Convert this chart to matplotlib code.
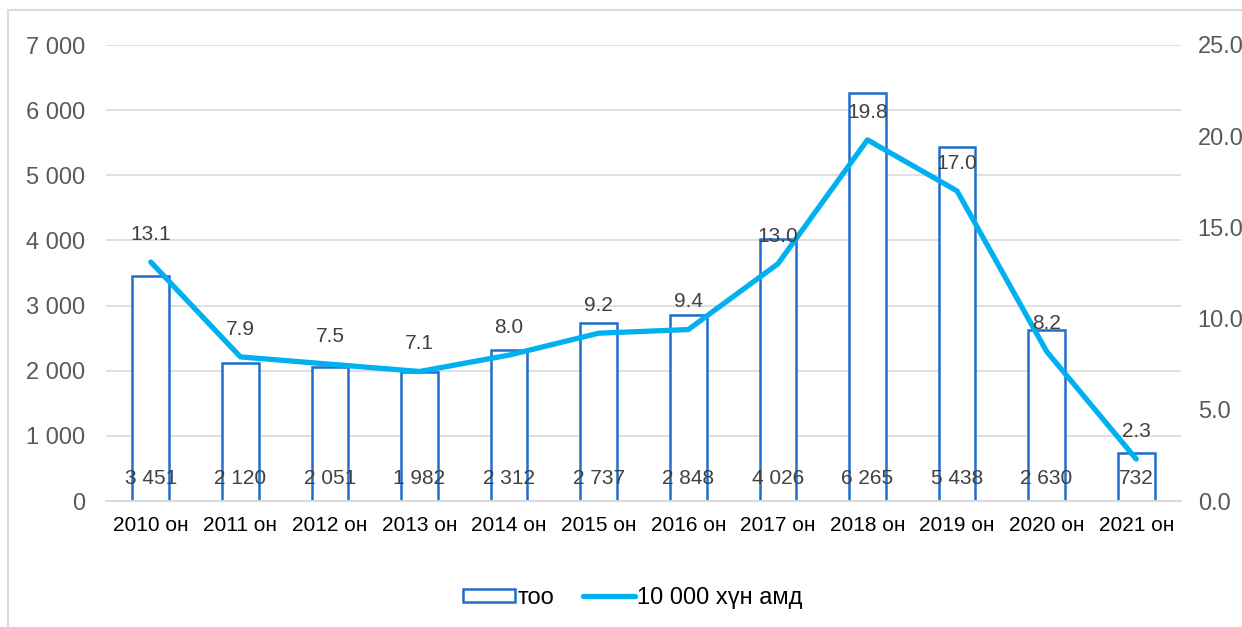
import numpy as np
import matplotlib
matplotlib.use("Agg")
import matplotlib.pyplot as plt
from matplotlib.patches import Rectangle

# data
years = ["2010 он", "2011 он", "2012 он", "2013 он", "2014 он", "2015 он",
         "2016 он", "2017 он", "2018 он", "2019 он", "2020 он", "2021 он"]
counts = [3451, 2120, 2051, 1982, 2312, 2737, 2848, 4026, 6265, 5438, 2630, 732]
rate = [13.1, 7.9, 7.5, 7.1, 8.0, 9.2, 9.4, 13.0, 19.8, 17.0, 8.2, 2.3]

plt.rcParams['font.family'] = ['Liberation Sans', 'DejaVu Sans']

fig = plt.figure(figsize=(12.42, 6.27), dpi=100)
# outer frame of the chart area (cut off at right / bottom)
fig.patches.append(Rectangle((8/1242, -0.2), 2.0, 1.2 - 10/627, transform=fig.transFigure,
                             fill=False, edgecolor='#D9D9D9', linewidth=1.5))

ax = fig.add_axes([106/1242, 1 - 501/627, 1075/1242, 456/627])
ax2 = ax.twinx()

x = np.arange(len(years))
bars = ax.bar(x, counts, width=0.41, facecolor='white', edgecolor='#1F6FC8',
              linewidth=1.8, label='тоо', zorder=2)
line, = ax2.plot(x, rate, color='#00B0F0', linewidth=3.8, solid_capstyle='round',
                 label='10 000 хүн амд', zorder=3)

ax.set_xlim(-0.5, len(years) - 0.5)
ax.set_ylim(0, 7000)
ax2.set_ylim(0, 25)
ax.set_yticks(np.arange(0, 7001, 1000))
ax.set_yticklabels([f"{v:,}".replace(",", " ") for v in range(0, 7001, 1000)])
ax2.set_yticks(np.arange(0, 25.1, 5))
ax2.set_yticklabels([f"{v:.1f}" for v in np.arange(0, 25.1, 5)])
ax.set_xticks(x)
ax.set_xticklabels(years, fontsize=15, color='#000000')

ax.grid(axis='y', color='#D9D9D9', linewidth=1.2, zorder=0)
ax.set_axisbelow(True)
for a in (ax, ax2):
    for s in ['top', 'left', 'right']:
        a.spines[s].set_visible(False)
    a.spines['bottom'].set_color('#D9D9D9')
    a.spines['bottom'].set_linewidth(1.2)
ax.tick_params(axis='y', length=0, pad=15, labelsize=17, labelcolor='#595959')
ax2.tick_params(axis='y', length=0, pad=12, labelsize=17, labelcolor='#595959')
ax.tick_params(axis='x', length=0, pad=11)

# bar value labels near the bottom
for xi, v in zip(x, counts):
    ax.annotate(f"{v:,}".replace(",", " "), (xi, 0), xytext=(0, 16), textcoords='offset points',
                ha='center', va='center', fontsize=15, color='#404040', zorder=5)
# line value labels above points
for xi, v in zip(x, rate):
    ax2.annotate(f"{v:.1f}", (xi, v), xytext=(0, 20), textcoords='offset points',
                 ha='center', va='center', fontsize=15, color='#404040', zorder=5)

fig.legend(handles=[bars, line], loc='center', bbox_to_anchor=(633/1242, 1 - 598/627),
           ncol=2, frameon=False, fontsize=17, handlelength=2.2, handleheight=0.5,
           handletextpad=0.1, columnspacing=1.2)

fig.savefig("out.png", dpi=100)
